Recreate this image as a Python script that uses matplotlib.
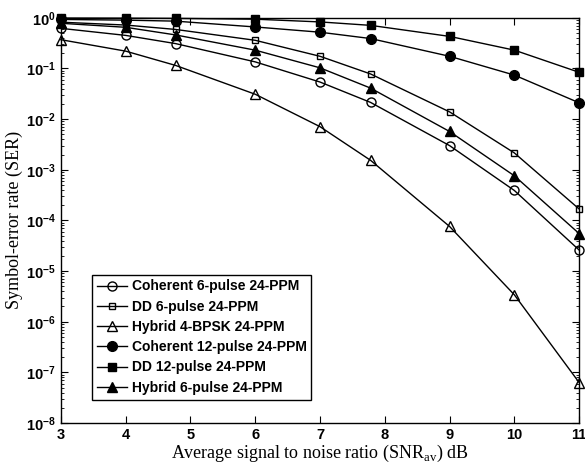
import matplotlib
matplotlib.use('Agg')
import matplotlib.pyplot as plt

# Datos
snr = [3, 4, 4.77, 6, 7, 7.78, 9, 10, 11]

coh6 = [0.62, 0.45, 0.31, 0.135, 0.054, 0.0214, 0.0030, 3.9e-4, 2.6e-5]
dd6 = [0.82, 0.72, 0.59, 0.36, 0.174, 0.078, 0.0139, 0.00215, 1.68e-4]
hyb4 = [0.37, 0.22, 0.115, 0.031, 0.0071, 0.00154, 7.6e-5, 3.4e-6, 6.3e-8]
coh12 = [0.93, 0.90, 0.86, 0.66, 0.52, 0.39, 0.174, 0.074, 0.021]
dd12 = [0.99, 0.985, 0.975, 0.94, 0.83, 0.71, 0.43, 0.23, 0.084]
hyb6 = [0.78, 0.65, 0.46, 0.23, 0.103, 0.041, 0.0057, 7.6e-4, 5.5e-5]

etiquetas = ['Coherent 6-pulse 24-PPM', 'DD 6-pulse 24-PPM', 'Hybrid 4-BPSK 24-PPM',
             'Coherent 12-pulse 24-PPM', 'DD 12-pulse 24-PPM', 'Hybrid 6-pulse 24-PPM']
x_ticks = [3, 4, 5, 6, 7, 8, 9, 10, 11]

series = [coh6, dd6, hyb4, coh12, dd12, hyb6]
marcadores = ['o', 's', '^', 'o', 's', '^']
rellenos = ['none', 'none', 'none', 'k', 'k', 'k']
tamanos = [6.5, 5, 6.5, 7, 5.5, 7]

fig = plt.figure(figsize=(5.85, 4.69), dpi=100)
ax = fig.add_axes([0.104, 0.098, 0.886, 0.864])

for i in range(len(series)):
    ax.plot(snr, series[i], color='k', linewidth=1.0, marker=marcadores[i],
            markersize=tamanos[i], markerfacecolor=rellenos[i],
            markeredgecolor='k', markeredgewidth=1.0, label=etiquetas[i],
            clip_on=False, zorder=3)

ax.set_yscale('log')
ax.set_xlim(3, 11)
ax.set_ylim(1e-8, 1)
ax.set_xticks(x_ticks)
ax.set_yticks([10.0 ** k for k in range(-8, 1)])

ax.tick_params(which='both', direction='in', top=True, right=True)
ax.tick_params(which='major', length=5, width=0.8)
ax.tick_params(which='minor', length=2.5, width=0.6)
for lab in ax.get_xticklabels() + ax.get_yticklabels():
    lab.set_fontfamily('Liberation Sans')
    lab.set_fontweight('bold')
    lab.set_fontsize(10.5)
for s in ax.spines.values():
    s.set_linewidth(1.0)

ax.set_xlabel(r'Average signal to noise ratio (SNR$_{\mathdefault{av}}$) dB',
              fontfamily='Liberation Serif', fontsize=13, labelpad=1)
ax.set_ylabel('Symbol-error rate (SER)', fontfamily='Liberation Serif',
              fontsize=13, labelpad=2)

leg = ax.legend(loc='lower left', bbox_to_anchor=(0.06, 0.058), borderaxespad=0,
                fancybox=False, edgecolor='k', framealpha=1,
                prop={'family': 'Liberation Sans', 'weight': 'bold', 'size': 10},
                handlelength=2.2, handletextpad=0.3, labelspacing=0.45,
                borderpad=0.35)
leg.get_frame().set_linewidth(1.0)

fig.savefig('out.png', dpi=100)
